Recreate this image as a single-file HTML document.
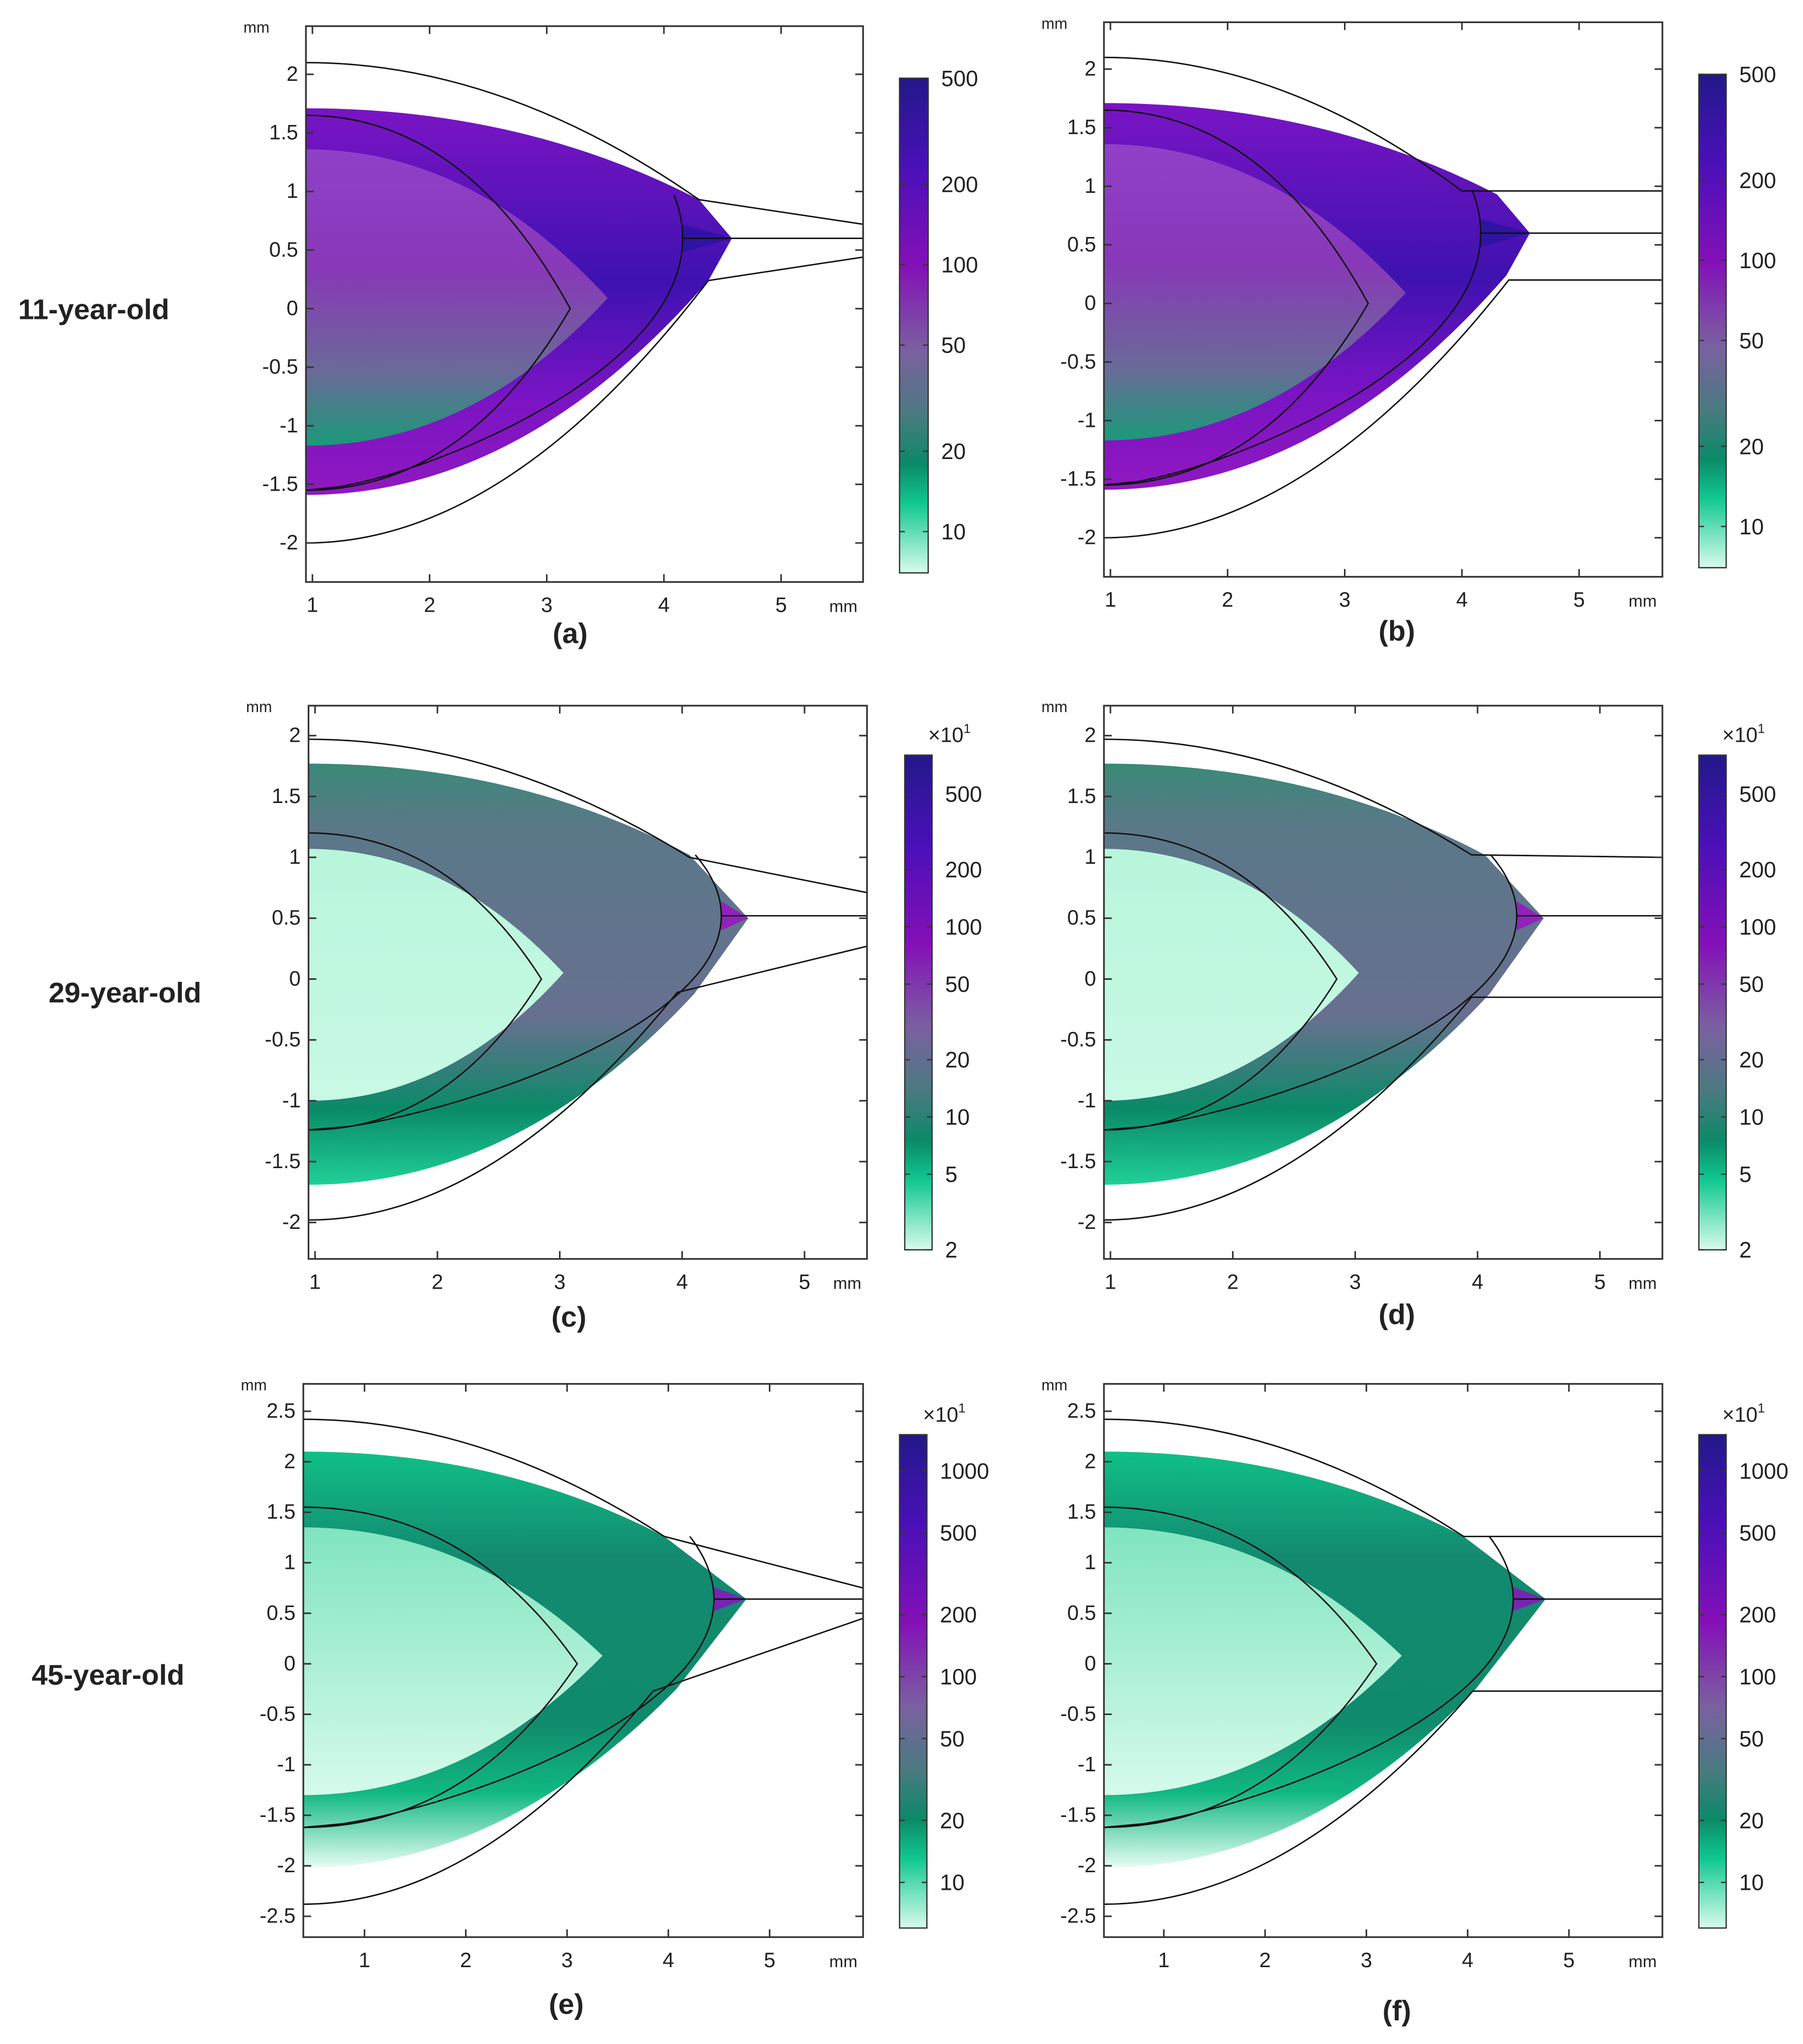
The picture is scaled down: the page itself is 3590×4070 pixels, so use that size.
<!DOCTYPE html>
<html><head><meta charset="utf-8">
<style>
html,body{margin:0;padding:0;background:#fff;}
svg{display:block;}
text{font-family:"Liberation Sans","DejaVu Sans",sans-serif;fill:#222;}
</style></head>
<body>
<svg id="fig" xmlns="http://www.w3.org/2000/svg" width="3590" height="4070" viewBox="0 0 1385 1570">
<defs>
<linearGradient id="cbGrad" x1="0" y1="0" x2="0" y2="1">
<stop offset="0" stop-color="#22188a"/><stop offset="0.18" stop-color="#4a10b8"/><stop offset="0.38" stop-color="#8410b8"/>
<stop offset="0.55" stop-color="#7a60a0"/><stop offset="0.68" stop-color="#4a7a80"/><stop offset="0.78" stop-color="#0a8a68"/>
<stop offset="0.86" stop-color="#10c890"/><stop offset="1" stop-color="#d8fbec"/></linearGradient>
<linearGradient id="bandA" x1="0" y1="0" x2="0" y2="1"><stop offset="0" stop-color="#7a14c4"/><stop offset="0.45" stop-color="#3e12b0"/><stop offset="0.75" stop-color="#7a14c4"/><stop offset="1" stop-color="#9018c0"/></linearGradient>
<linearGradient id="innerA" x1="0" y1="0" x2="0" y2="1"><stop offset="0" stop-color="#9040c8"/><stop offset="0.4" stop-color="#8838b8"/><stop offset="0.75" stop-color="#6a6a98"/><stop offset="1" stop-color="#1a9a78"/></linearGradient>
<linearGradient id="bandC" x1="0" y1="0" x2="0" y2="1"><stop offset="0" stop-color="#3a8a78"/><stop offset="0.15" stop-color="#5a7888"/><stop offset="0.6" stop-color="#687090"/><stop offset="0.82" stop-color="#0a8a68"/><stop offset="1" stop-color="#20d098"/></linearGradient>
<linearGradient id="innerC" x1="0" y1="0" x2="0" y2="1"><stop offset="0" stop-color="#b8f6dc"/><stop offset="1" stop-color="#c8f9e4"/></linearGradient>
<linearGradient id="bandE" x1="0" y1="0" x2="0" y2="1"><stop offset="0" stop-color="#10c088"/><stop offset="0.25" stop-color="#138a70"/><stop offset="0.65" stop-color="#108a6c"/><stop offset="0.82" stop-color="#10b882"/><stop offset="1" stop-color="#e8fdf4"/></linearGradient>
<linearGradient id="innerE" x1="0" y1="0" x2="0" y2="1"><stop offset="0" stop-color="#80e4c0"/><stop offset="1" stop-color="#d6fbea"/></linearGradient>
</defs>
</svg>
<script>
// ---- data ----
const panelIds = ['a','b','c','d','e','f'];
const xTicks12 = [1,2,3,4,5];
const yTicksAB = [2,1.5,1,0.5,0,-0.5,-1,-1.5,-2];
const yTicksCD = [2,1.5,1,0.5,0,-0.5,-1,-1.5,-2];
const yTicksEF = [2.5,2,1.5,1,0.5,0,-0.5,-1,-1.5,-2,-2.5];
const cbLabelsAB = ['500','200','100','50','20','10'];
const cbValuesAB = [500,200,100,50,20,10];
const cbLabelsCD = ['500','200','100','50','20','10','5','2'];
const cbValuesCD = [500,200,100,50,20,10,5,2];
const cbLabelsEF = ['1000','500','200','100','50','20','10'];
const cbValuesEF = [1000,500,200,100,50,20,10];
const rowLabels = ['11-year-old','29-year-old','45-year-old'];

const svg=document.getElementById('fig');
const NS='http://www.w3.org/2000/svg';
function el(tag,attrs,parent){const e=document.createElementNS(NS,tag);for(const k in attrs)e.setAttribute(k,attrs[k]);(parent||svg).appendChild(e);return e;}

function panel(cfg){
  const g=el('g',{});
  
  
  const X=v=>cfg.x1px+(v-1)*cfg.sx, Y=v=>cfg.y0px-v*cfg.sy;
  const [bx1,by1,bx2,by2]=cfg.box;
  const xL=(bx1-cfg.x1px)/cfg.sx+1, xR=(bx2-cfg.x1px)/cfg.sx+1;
  const s=cfg.s;
  const P=(x,y)=>X(x).toFixed(1)+','+Y(y).toFixed(1);
  const clip=el('clipPath',{id:'clip'+cfg.id},g);
  el('rect',{x:bx1,y:by1,width:bx2-bx1,height:by2-by1},clip);
  const pg=el('g',{'clip-path':'url(#clip'+cfg.id+')'},g);
  const mB=xL+0.55*(s.jt[0]-xL);
  const band=el('path',{d:`M${P(xL,s.bt)} Q${P(mB,s.bt)} ${P(s.jt[0],s.jt[1])} L${P(s.tip[0],s.tip[1])} L${P(s.jb[0],s.jb[1])} Q${P(mB,s.bb)} ${P(xL,s.bb)} Z`,fill:'url(#'+cfg.band+')'},pg);
  
  
  const tp=el('path',{d:`M${P(s.ap[0],s.ap[1]+0.12)} L${P(s.tip[0],s.tip[1])} L${P(s.ap[0],s.ap[1]-0.12)} Z`,fill:cfg.tipColor,opacity:0.85},pg);
  
  
  const mI=xL+0.55*(s.it[0]-xL);
  const inner=el('path',{d:`M${P(xL,s.iTop)} Q${P(mI,s.iTop)} ${P(s.it[0],s.it[1])} Q${P(mI,s.iBot)} ${P(xL,s.iBot)} Z`,fill:'url(#'+cfg.inner+')'},pg);
  
  
  const ln={fill:'none',stroke:'#111','stroke-width':1.1};
  const mT=xL+0.5*(s.ojt[0]-xL), mBo=xL+0.5*(s.ojb[0]-xL);
  const ot=el('path',Object.assign({d:`M${P(xL,s.ot)} Q${P(mT,s.ot)} ${P(s.ojt[0],s.ojt[1])} L${P(xR,s.rt)}`},ln),pg);
  
  
  const ob=el('path',Object.assign({d:`M${P(xL,s.ob)} Q${P(mBo,s.ob)} ${P(s.ojb[0],s.ojb[1])} L${P(xR,s.rb)}`},ln),pg);
  
  
  const cl=el('path',Object.assign({d:`M${P(s.ap[0],s.ap[1])} L${P(xR,s.ap[1])}`},ln),pg);
  
  
  const mL=xL+0.6*(s.lt[0]-xL);
  const lens=el('path',Object.assign({d:`M${P(xL,s.lTop)} Q${P(mL,s.lTop)} ${P(s.lt[0],s.lt[1])} Q${P(mL,s.lBot)} ${P(xL,s.lBot)}`},ln),pg);
  
  
  // big arc: blend of ellipse and sideways parabola, vertex at apex
  const ra=s.ap[0]-xL, rb=s.ap[1]-s.lBot, w=0.45;
  let d='';
  const N=80;
  for(let i=0;i<=N;i++){
    const y=s.lBot+(s.ae[1]-s.lBot)*i/N;
    const u=Math.min(1,Math.abs(y-s.ap[1])/rb);
    const xe=xL+ra*Math.sqrt(1-u*u), xp=xL+ra*(1-u*u);
    d+=(i?'L':'M')+P(w*xe+(1-w)*xp,y)+' ';
  }
  const arc=el('path',Object.assign({d:d},ln),pg);
  
  
  const box=el('rect',{x:bx1,y:by1,width:bx2-bx1,height:by2-by1,fill:'none',stroke:'#333','stroke-width':1.3},g);
  
  
  cfg.xt.forEach(v=>{const x=X(v);
    el('line',{x1:x,y1:by2,x2:x,y2:by2-6,stroke:'#333','stroke-width':1.2},g);
    el('line',{x1:x,y1:by1,x2:x,y2:by1+6,stroke:'#333','stroke-width':1.2},g);
    const t=el('text',{x:x,y:by2+23,'font-size':16,'text-anchor':'middle'},g);t.textContent=v;
    
    });
  cfg.yt.forEach(v=>{const y=Y(v);
    el('line',{x1:bx1,y1:y,x2:bx1+6,y2:y,stroke:'#333','stroke-width':1.2},g);
    el('line',{x1:bx2,y1:y,x2:bx2-6,y2:y,stroke:'#333','stroke-width':1.2},g);
    const t=el('text',{x:bx1-6,y:y+5,'font-size':16,'text-anchor':'end'},g);t.textContent=v;
    
    });
  let t=el('text',{x:bx1-48,y:by1+5,'font-size':12},g);t.textContent='mm';
  
  
  t=el('text',{x:bx2-26,y:by2+23,'font-size':13},g);t.textContent='mm';
  
  
  const [cx,cy,cw,ch]=cfg.cb;
  const cb=el('rect',{x:cx,y:cy,width:cw,height:ch,fill:'url(#cbGrad)',stroke:'#333','stroke-width':1},g);
  
  
  const lmax=Math.log(cfg.cbMax), lmin=Math.log(cfg.cbMin);
  const CY=v=>cy+(lmax-Math.log(v))/(lmax-lmin)*ch;
  cfg.cbVals.forEach((v,i)=>{const y=CY(v);
    el('line',{x1:cx,y1:y,x2:cx+4,y2:y,stroke:'#333'},g);
    el('line',{x1:cx+cw,y1:y,x2:cx+cw-4,y2:y,stroke:'#333'},g);
    const tt=el('text',{x:cx+cw+10,y:y+6,'font-size':17},g);tt.textContent=cfg.cbLabels[i];
    
    });
  if(cfg.x10){const tt=el('text',{x:cx+18,y:cy-10,'font-size':16},g);tt.innerHTML='×10<tspan font-size="10" dy="-7">1</tspan>';
    
    }
  const lab=el('text',{x:cfg.lab[0],y:cfg.lab[1],'font-size':22,'font-weight':'bold','text-anchor':'middle'},g);lab.textContent='('+cfg.id+')';
  
  
}

const sA={ot:2.1,ob:-2.0,ojt:[4.3,0.93],ojb:[4.38,0.24],rt:0.72,rb:0.44,bt:1.71,bb:-1.59,jt:[4.3,0.93],jb:[4.38,0.24],tip:[4.58,0.6],iTop:1.36,iBot:-1.17,it:[3.52,0.09],lTop:1.65,lBot:-1.55,lt:[3.2,0],ap:[4.16,0.6],ae:[4.0,0.97]};
const sB=Object.assign({},sA,{rt:0.96,rb:0.2,ojt:[4.0,0.96],ojb:[4.4,0.2]});
const sC={ot:1.97,ob:-1.98,ojt:[4.06,1.0],ojb:[3.96,-0.11],rt:0.71,rb:0.27,bt:1.77,bb:-1.69,jt:[4.06,1.02],jb:[4.1,-0.12],tip:[4.54,0.5],iTop:1.07,iBot:-1.0,it:[3.03,0.05],lTop:1.2,lBot:-1.24,lt:[2.85,0],ap:[4.32,0.52],ae:[4.05,1.02]};
const sD=Object.assign({},sC,{ojt:[3.95,1.02],rt:1.0,ojb:[3.95,-0.15],rb:-0.15});
const sE={ot:2.42,ob:-2.38,ojt:[3.96,1.26],ojb:[3.85,-0.27],rt:0.75,rb:0.45,bt:2.1,bb:-2.02,jt:[3.96,1.26],jb:[4.08,-0.25],tip:[4.77,0.64],iTop:1.35,iBot:-1.3,it:[3.35,0.08],lTop:1.55,lBot:-1.62,lt:[3.1,0],ap:[4.45,0.64],ae:[3.95,1.26]};
const sF=Object.assign({},sE,{rt:1.26,rb:-0.27,ojb:[4.05,-0.27]});

panel({id:'a',box:[235,20,663,447],x1px:240,sx:90,y0px:237,sy:90,xt:xTicks12,yt:yTicksAB,s:sA,band:'bandA',inner:'innerA',tipColor:'#2a14a0',cb:[691,60,22,380],cbVals:cbValuesAB,cbLabels:cbLabelsAB,cbMax:500,cbMin:7,x10:false,lab:[438,494]});
panel({id:'b',box:[848,17,1277,443],x1px:853,sx:90,y0px:233,sy:90,xt:xTicks12,yt:yTicksAB,s:sB,band:'bandA',inner:'innerA',tipColor:'#2a14a0',cb:[1305,57,21,379],cbVals:cbValuesAB,cbLabels:cbLabelsAB,cbMax:500,cbMin:7,x10:false,lab:[1073,492]});
panel({id:'c',box:[237,542,666,967],x1px:242,sx:94,y0px:752,sy:93.5,xt:xTicks12,yt:yTicksCD,s:sC,band:'bandC',inner:'innerC',tipColor:'#9a14c4',cb:[695,580,21,380],cbVals:cbValuesCD,cbLabels:cbLabelsCD,cbMax:800,cbMin:2,x10:true,lab:[437,1019]});
panel({id:'d',box:[848,542,1277,967],x1px:853,sx:94,y0px:752,sy:93.5,xt:xTicks12,yt:yTicksCD,s:sD,band:'bandC',inner:'innerC',tipColor:'#9a14c4',cb:[1305,580,21,380],cbVals:cbValuesCD,cbLabels:cbLabelsCD,cbMax:800,cbMin:2,x10:true,lab:[1073,1017]});
panel({id:'e',box:[233,1063,663,1488],x1px:280,sx:77.8,y0px:1278,sy:77.6,xt:xTicks12,yt:yTicksEF,s:sE,band:'bandE',inner:'innerE',tipColor:'#8a14c0',cb:[691,1102,21,379],cbVals:cbValuesEF,cbLabels:cbLabelsEF,cbMax:1500,cbMin:6,x10:true,lab:[435,1547]});
panel({id:'f',box:[848,1063,1277,1488],x1px:894,sx:77.8,y0px:1278,sy:77.6,xt:xTicks12,yt:yTicksEF,s:sF,band:'bandE',inner:'innerE',tipColor:'#8a14c0',cb:[1305,1102,21,379],cbVals:cbValuesEF,cbLabels:cbLabelsEF,cbMax:1500,cbMin:6,x10:true,lab:[1073,1552]});

[[72,245],[96,770],[83,1294]].forEach((p,i)=>{
  const t=el('text',{x:p[0],y:p[1],'font-size':22,'font-weight':'bold','text-anchor':'middle'});
  t.textContent=rowLabels[i];
  
  
});
</script>
</body></html>
